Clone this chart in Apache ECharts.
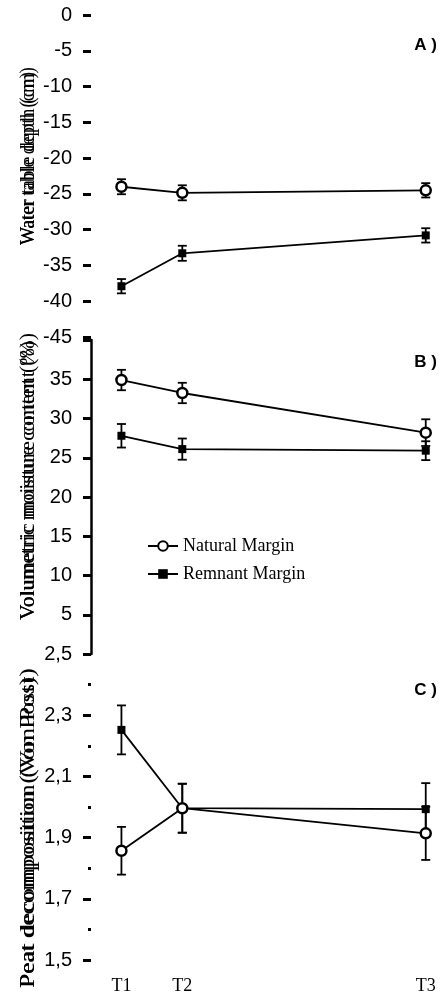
<!DOCTYPE html>
<html>
<head>
<meta charset="utf-8">
<script src="https://cdn.jsdelivr.net/npm/echarts@6/dist/echarts.min.js"></script>
<style>
  html, body { margin: 0; padding: 0; background: #fff; }
  #chart { width: 444px; height: 1003px; }
</style>
</head>
<body>
<div id="chart"></div>
<script>
// Sampling times and their relative spacing on the shared x axis
const timeLabels = ['T1', 'T2', 'T3'];
const timeValues = [1, 2, 6];

// A) Water table depth (cm): means and error half-widths
const waterNatural = [-24.0, -24.85, -24.5];
const waterNaturalErr = [1.05, 1.05, 1.0];
const waterRemnant = [-37.9, -33.3, -30.8];
const waterRemnantErr = [1.0, 1.05, 1.0];

// B) Volumetric moisture content (%)
const moistNatural = [34.9, 33.25, 28.2];
const moistNaturalErr = [1.3, 1.3, 1.7];
const moistRemnant = [27.8, 26.1, 25.9];
const moistRemnantErr = [1.5, 1.35, 1.2];

// C) Peat decomposition (Von Post)
const peatNatural = [1.857, 1.996, 1.914];
const peatNaturalErr = [0.078, 0.08, 0.087];
const peatRemnant = [2.252, 1.996, 1.993];
const peatRemnantErr = [0.08, 0.08, 0.085];

const seriesNames = ['Natural Margin', 'Remnant Margin'];

const sans = 'Liberation Sans, Arial, sans-serif';
const serif = 'Liberation Serif, Times New Roman, serif';

function points(vals) {
  return vals.map((v, i) => [timeValues[i], v]);
}
function errRanges(vals, errs) {
  return vals.map((v, i) => [timeValues[i], v - errs[i], v + errs[i]]);
}

function errorBars(idx, vals, errs) {
  return {
    type: 'custom',
    xAxisIndex: idx,
    yAxisIndex: idx,
    z: 2,
    silent: true,
    data: errRanges(vals, errs),
    encode: { x: 0, y: [1, 2] },
    renderItem: function (params, api) {
      const x = api.value(0);
      const lo = api.coord([x, api.value(1)]);
      const hi = api.coord([x, api.value(2)]);
      const cap = 4.5;
      const style = { stroke: '#000', lineWidth: 1.8 };
      return {
        type: 'group',
        children: [
          { type: 'line', shape: { x1: lo[0], y1: lo[1], x2: hi[0], y2: hi[1] }, style: style },
          { type: 'line', shape: { x1: lo[0] - cap, y1: lo[1], x2: lo[0] + cap, y2: lo[1] }, style: style },
          { type: 'line', shape: { x1: hi[0] - cap, y1: hi[1], x2: hi[0] + cap, y2: hi[1] }, style: style }
        ]
      };
    }
  };
}

function naturalLine(idx, vals) {
  return {
    name: seriesNames[0],
    type: 'line',
    xAxisIndex: idx,
    yAxisIndex: idx,
    z: 4,
    data: points(vals),
    symbol: 'circle',
    symbolSize: 10,
    lineStyle: { color: '#000', width: 1.8 },
    itemStyle: { color: '#fff', borderColor: '#000', borderWidth: 2.5 },
    animation: false
  };
}
function remnantLine(idx, vals) {
  return {
    name: seriesNames[1],
    type: 'line',
    xAxisIndex: idx,
    yAxisIndex: idx,
    z: 3,
    data: points(vals),
    symbol: 'rect',
    symbolSize: 8,
    lineStyle: { color: '#000', width: 1.8 },
    itemStyle: { color: '#000', borderColor: '#000', borderWidth: 0 },
    animation: false
  };
}

function xAxisFor(idx, showLabels) {
  return {
    type: 'value',
    gridIndex: idx,
    min: 0.5,
    max: 6.3,
    axisLine: { show: false },
    axisTick: { show: false },
    splitLine: { show: false },
    axisLabel: showLabels ? {
      customValues: timeValues,
      formatter: v => timeLabels[timeValues.indexOf(v)],
      fontFamily: serif,
      fontSize: 18,
      color: '#000',
      margin: 17
    } : { show: false }
  };
}

const tickStyle = { show: true, inside: false, length: 8, lineStyle: { color: '#000', width: 3 } };
const labelStyle = { fontFamily: sans, fontSize: 20, color: '#000', margin: 19 };

// Measure a string so each axis title can be fitted to its span
const measureCtx = document.createElement('canvas').getContext('2d');
function textWidth(text, font) {
  measureCtx.font = font;
  return measureCtx.measureText(text).width;
}

// Axis titles are drawn twice, the second copy a little longer,
// both fitted along the axis from yStart upwards over `span` pixels
function axisTitle(text, x, yStart, span, size) {
  const font = size + 'px "Liberation Serif", "Times New Roman", serif';
  const w = textWidth(text, font);
  const full = span / w;
  return [full * 0.972, full].map(s => ({
    type: 'text',
    x: x,
    y: yStart,
    rotation: Math.PI / 2,
    scaleX: s,
    style: {
      text: text,
      font: font,
      fill: '#000',
      textAlign: 'left',
      textVerticalAlign: 'middle'
    }
  }));
}

function panelLabel(text, y) {
  return {
    type: 'text',
    right: 7,
    top: y,
    style: { text: text, font: 'bold 17px ' + sans, fill: '#000' }
  };
}

const option = {
  animation: false,
  backgroundColor: '#fff',
  grid: [
    { left: 91, right: 0, top: 15, height: 322 },
    { left: 91, right: 0, top: 340, height: 314 },
    { left: 91, right: 0, top: 654, height: 306 }
  ],
  xAxis: [xAxisFor(0, false), xAxisFor(1, false), xAxisFor(2, true)],
  yAxis: [
    {
      type: 'value', gridIndex: 0, min: -45, max: 0, interval: 5,
      axisLine: { show: false }, axisTick: tickStyle, splitLine: { show: false },
      axisLabel: labelStyle
    },
    {
      type: 'value', gridIndex: 1, min: 0, max: 40, interval: 5,
      axisLine: { show: true, lineStyle: { color: '#000', width: 2.5 } },
      axisTick: tickStyle, splitLine: { show: false },
      axisLabel: Object.assign({}, labelStyle, {
        formatter: v => (v === 0 || v === 40) ? '' : String(v)
      })
    },
    {
      type: 'value', gridIndex: 2, min: 1.5, max: 2.5, interval: 0.2,
      axisLine: { show: false }, axisTick: tickStyle, splitLine: { show: false },
      minorTick: { show: true, splitNumber: 2, length: 3, lineStyle: { color: '#000', width: 3 } },
      axisLabel: Object.assign({}, labelStyle, {
        formatter: v => v.toFixed(1).replace('.', ',')
      })
    }
  ],
  legend: {
    orient: 'vertical',
    left: 142,
    top: 532,
    itemWidth: 30,
    itemHeight: 12,
    itemGap: 10,
    data: seriesNames,
    textStyle: { fontFamily: serif, fontSize: 18, color: '#000' }
  },
  graphic: [
    ...axisTitle('Water table depth (cm)', 28, 245, 178, 22),
    ...axisTitle('Volumetric moisture content (%)', 28, 620, 287, 22),
    ...axisTitle('Peat decomposition (Von Post)', 28, 988, 320, 22),
    panelLabel('A )', 37),
    panelLabel('B )', 354),
    panelLabel('C )', 682)
  ],
  series: [
    errorBars(0, waterNatural, waterNaturalErr),
    errorBars(0, waterRemnant, waterRemnantErr),
    naturalLine(0, waterNatural),
    remnantLine(0, waterRemnant),
    errorBars(1, moistNatural, moistNaturalErr),
    errorBars(1, moistRemnant, moistRemnantErr),
    naturalLine(1, moistNatural),
    remnantLine(1, moistRemnant),
    errorBars(2, peatNatural, peatNaturalErr),
    errorBars(2, peatRemnant, peatRemnantErr),
    naturalLine(2, peatNatural),
    remnantLine(2, peatRemnant)
  ]
};

const chart = echarts.init(document.getElementById('chart'), null, { renderer: 'canvas' });
chart.setOption(option);
</script>
</body>
</html>
